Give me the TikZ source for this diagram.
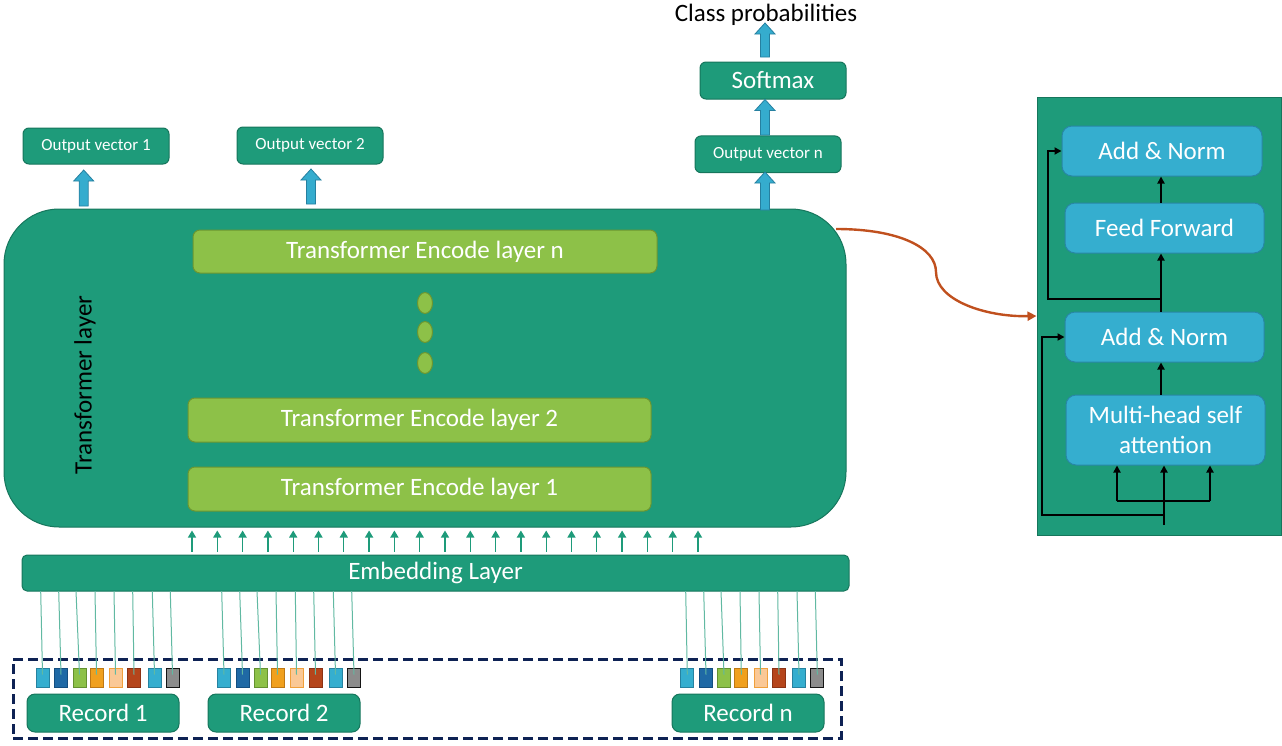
\documentclass[tikz,border=0pt]{standalone}
\usepackage{fontspec}
\setmainfont{Carlito}
\usetikzlibrary{arrows.meta,shapes.geometric,calc}

\definecolor{teal1}{RGB}{30,155,122}
\definecolor{tealb}{RGB}{22,118,92}
\definecolor{lgreen}{RGB}{141,193,72}
\definecolor{lgreenb}{RGB}{108,150,48}
\definecolor{cyan1}{RGB}{53,174,207}
\definecolor{cyanb}{RGB}{40,135,165}
\definecolor{navy}{RGB}{14,34,84}
\definecolor{rustline}{RGB}{192,80,30}
\definecolor{barfill}{RGB}{53,172,206}
\definecolor{barline}{RGB}{38,128,160}
% square colours
\definecolor{sqc1}{RGB}{53,174,207}\definecolor{sqb1}{RGB}{38,130,160}
\definecolor{sqc2}{RGB}{31,105,165}\definecolor{sqb2}{RGB}{20,78,128}
\definecolor{sqc3}{RGB}{141,193,72}\definecolor{sqb3}{RGB}{100,145,48}
\definecolor{sqc4}{RGB}{240,160,30}\definecolor{sqb4}{RGB}{190,120,20}
\definecolor{sqc5}{RGB}{250,200,150}\definecolor{sqb5}{RGB}{240,160,60}
\definecolor{sqc6}{RGB}{181,69,27}\definecolor{sqb6}{RGB}{140,50,20}
\definecolor{sqc7}{RGB}{53,174,207}\definecolor{sqb7}{RGB}{38,130,160}
\definecolor{sqc8}{RGB}{140,140,140}\definecolor{sqb8}{RGB}{20,20,20}

\newcommand\blockup[2]{%
  \path let \p1=(#1), \p2=(#2) in
    [fill=barfill, draw=barline, line width=0.8pt, line join=miter]
    (\x2-4.5pt,\y1) -- (\x2-4.5pt,\y2-11pt) -- (\x2-10pt,\y2-11pt) -- (\x2,\y2)
    -- (\x2+10pt,\y2-11pt) -- (\x2+4.5pt,\y2-11pt) -- (\x2+4.5pt,\y1) -- cycle;}

\begin{document}
\begin{tikzpicture}[x=1pt,y=-1pt,
  every node/.style={inner sep=0pt, font=\fontsize{25}{30}\selectfont},
  tbox/.style={draw=tealb, fill=teal1, line width=1pt, rounded corners=6pt, text=white},
  gbox/.style={draw=lgreenb, fill=lgreen, line width=1pt, rounded corners=7pt, text=white},
  cbox/.style={draw=cyanb, fill=cyan1, line width=1pt, rounded corners=10pt, text=white},
  smalltext/.style={font=\fontsize{17}{20}\selectfont},
  sqbox/.style={minimum width=13pt, minimum height=19pt, line width=1pt},
  garrow/.style={draw=teal1, line width=1.3pt, shorten <=3pt, shorten >=3pt, -{Triangle[length=7pt,width=8pt]}},
  feedline/.style={draw=teal1!70, line width=1pt},
  karrow/.style={draw=black, line width=1.9pt, -{Triangle[length=7pt,width=7pt]}},
  kline/.style={draw=black, line width=1.9pt},
  oarrow/.style={draw=rustline, line width=2.4pt, -{Triangle[length=9pt,width=9pt]}}
]
\useasboundingbox (0,0) rectangle (1282,745);

% ---- top outputs ----
\node (cls) at (766,15) {Class probabilities};
\node[tbox, minimum width=146pt, minimum height=37pt] (soft) at (773,80.5) {Softmax};
\node[tbox, smalltext, minimum width=146pt, minimum height=36.7pt] (ovn) at (768,154.3) {Output vector n};
\node[tbox, smalltext, minimum width=146pt, minimum height=36pt] (ov1) at (96,146) {Output vector 1};
\node[tbox, smalltext, minimum width=146pt, minimum height=37pt] (ov2) at (310,145.5) {Output vector 2};

% ---- transformer layer ----
\node[draw=tealb, fill=teal1, line width=1pt, rounded corners=55pt, minimum width=842pt, minimum height=318pt] (tl) at (425,368) {};
\node[rotate=90] (tltext) at (85,385) {Transformer layer};
\node[gbox, minimum width=464pt, minimum height=43pt] (encn) at (425,251.5) {Transformer Encode layer n};
\node[gbox, minimum width=463pt, minimum height=44pt] (enc2) at (419.5,420) {Transformer Encode layer 2};
\node[gbox, minimum width=463pt, minimum height=44pt] (enc1) at (419.5,489) {Transformer Encode layer 1};
\foreach \yy [count=\i] in {303,332,363}
  \node[ellipse, draw=lgreenb, fill=lgreen, line width=1pt, minimum width=15pt, minimum height=21pt] (dot\i) at (425,\yy) {};

% block arrows
\coordinate (b1) at (83.7,206);
\coordinate (b2) at (311,204);
\coordinate (bn) at (765,210);
\coordinate (t1) at (83.7,170);
\coordinate (t2) at (311,169);
\coordinate (tn) at (765,172);
\blockup{b1}{t1}
\blockup{b2}{t2}
\blockup{bn}{tn}
\coordinate (bs) at (765,135);
\coordinate (ts) at (765,99.5);
\blockup{bs}{ts}
\coordinate (bc) at (765,57);
\coordinate (tc) at (765,23);
\blockup{bc}{tc}

% ---- embedding layer ----
\node[tbox, rounded corners=5pt, minimum width=827pt, minimum height=36pt] (emb) at (435.5,573) {Embedding Layer};
\foreach \k in {0,...,20} {
  \coordinate (ga\k) at ({192+25.3*\k},552);
  \draw[garrow] (emb.north -| ga\k) -- (tl.south -| ga\k);
}

% ---- records ----
\node[draw=navy, line width=3pt, dash pattern=on 10pt off 5pt, minimum width=828pt, minimum height=79pt] (dbox) at (427,698.5) {};
\node[tbox, rounded corners=8pt, minimum width=152pt, minimum height=38pt] (rec1) at (103,713) {Record 1};
\node[tbox, rounded corners=8pt, minimum width=152pt, minimum height=38pt] (rec2) at (284,713) {Record 2};
\node[tbox, rounded corners=8pt, minimum width=152pt, minimum height=38pt] (recn) at (748,713) {Record n};

\foreach \t/\c [count=\i] in {40.7/42.5,58.7/61,76/79.5,95/96.5,114/115.5,132.7/134,152.3/154.5,170.3/172.5} {
  \node[sqbox, fill=sqc\i, draw=sqb\i] (sa\i) at (\c,677.5) {};
  \coordinate (ta\i) at (\t,591);
  \draw[feedline] (ta\i) -- ([yshift=3pt]sa\i.center);
}
\foreach \t/\c [count=\i] in {221.7/224,239.7/242.5,257/260.5,276/277.5,295.3/296.5,313.7/315.5,333.3/335.5,351.7/354} {
  \node[sqbox, fill=sqc\i, draw=sqb\i] (sb\i) at (\c,677.5) {};
  \coordinate (tb\i) at (\t,591);
  \draw[feedline] (tb\i) -- ([yshift=3pt]sb\i.center);
}
\foreach \t/\c [count=\i] in {685.7/687.3,703.7/706,721/724,740/741.3,759/760.5,777.7/779,797/799,815.3/817.3} {
  \node[sqbox, fill=sqc\i, draw=sqb\i] (sn\i) at (\c,677.5) {};
  \coordinate (tn\i) at (\t,591);
  \draw[feedline] (tn\i) -- ([yshift=3pt]sn\i.center);
}

% ---- right panel ----
\node[draw=tealb, fill=teal1, line width=1pt, minimum width=244pt, minimum height=438pt] (panel) at (1159,316) {};
\node[cbox, minimum width=200pt, minimum height=50pt] (an1) at (1162,151) {Add \& Norm};
\node[cbox, minimum width=199pt, minimum height=50pt] (ff) at (1164.5,228) {Feed Forward};
\node[cbox, minimum width=199pt, minimum height=50pt] (an2) at (1164.5,337) {Add \& Norm};
\node[cbox, minimum width=199pt, minimum height=70pt, align=center] (mh) at (1165.5,430) {Multi-head self\\attention};

\coordinate (ax) at (1161,0);
\draw[karrow] (ff.north -| ax) -- (an1.south -| ax);
\draw[karrow] (an2.north -| ax) -- (ff.south -| ax);
\draw[karrow] (mh.north -| ax) -- (an2.south -| ax);
\coordinate (br1) at (1161,299);
\coordinate (bl1) at (1048,299);
\draw[karrow] (br1) -- (bl1) |- (an1.west);

\coordinate (bot) at (1164,525);
\draw[karrow] (bot) -- (mh.south -| bot);
\coordinate (hl) at (1117,501);
\coordinate (hr) at (1210,501);
\draw[kline] (hl) -- (hr);
\draw[karrow] (hl) -- (mh.south -| hl);
\draw[karrow] (hr) -- (mh.south -| hr);
\coordinate (rj) at (1164,515);
\coordinate (rl) at (1042,515);
\draw[karrow] (rj) -- (rl) |- (an2.west);

% orange connector
\coordinate (cs) at (836,229);
\draw[oarrow] (cs) .. controls (900,229) and (936,248) .. (936,272) .. controls (936,300) and (985,317) .. (panel.west);
\end{tikzpicture}
\end{document}
